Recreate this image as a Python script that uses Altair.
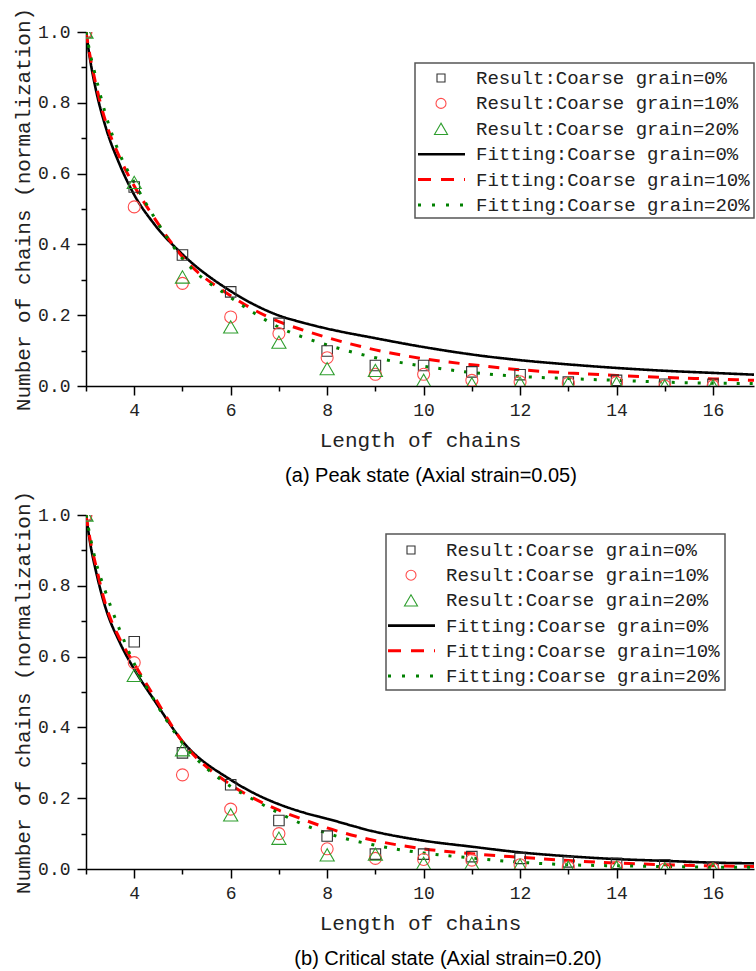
import altair as alt
import pandas as pd

# ---------------- data ----------------
x_pts = list(range(3, 17))

# (a) Peak state
sq_a = [1.0, 0.562, 0.370, 0.266, 0.177, 0.099, 0.058, 0.058, 0.040, 0.032, 0.011, 0.016, 0.005, 0.005]
ci_a = [1.0, 0.506, 0.290, 0.195, 0.148, 0.080, 0.033, 0.033, 0.016, 0.012, 0.008, 0.010, 0.0, 0.0]
tr_a = [1.0, 0.575, 0.308, 0.167, 0.124, 0.049, 0.044, 0.016, 0.006, 0.008, 0.008, 0.008, 0.0, 0.0]

# (b) Critical state
sq_b = [1.0, 0.642, 0.328, 0.238, 0.137, 0.093, 0.042, 0.042, 0.035, 0.030, 0.020, 0.016, 0.012, 0.005]
ci_b = [1.0, 0.583, 0.266, 0.169, 0.100, 0.057, 0.030, 0.027, 0.025, 0.012, 0.005, 0.005, 0.0, 0.0]
tr_b = [1.0, 0.547, 0.337, 0.153, 0.087, 0.040, 0.042, 0.016, 0.016, 0.011, 0.005, 0.005, 0.0, 0.0]

x_fit = [3, 3.1, 3.2, 3.4, 3.7, 4, 4.4, 5, 6, 6.5, 7, 7.5, 8, 9, 10, 11, 12, 13, 14, 15, 16, 16.85]
fit_a0 = [1.0, 0.91, 0.84, 0.735, 0.625, 0.54, 0.46, 0.372, 0.268, 0.229, 0.199, 0.179, 0.162, 0.135,
          0.11, 0.089, 0.073, 0.061, 0.051, 0.043, 0.037, 0.032]
fit_a10 = [1.0, 0.92, 0.855, 0.75, 0.645, 0.565, 0.478, 0.365, 0.255, 0.214, 0.182, 0.158, 0.137, 0.102,
           0.077, 0.06, 0.046, 0.037, 0.03, 0.024, 0.02, 0.016]
fit_a20 = [1.0, 0.93, 0.875, 0.77, 0.655, 0.575, 0.48, 0.36, 0.25, 0.205, 0.166, 0.138, 0.116, 0.08,
           0.056, 0.038, 0.027, 0.021, 0.016, 0.011, 0.008, 0.007]
fit_b0 = [1.0, 0.91, 0.845, 0.74, 0.64, 0.564, 0.48, 0.361, 0.252, 0.213, 0.183, 0.16, 0.142, 0.105,
          0.08, 0.063, 0.047, 0.036, 0.028, 0.023, 0.018, 0.016]
fit_b10 = [1.0, 0.92, 0.86, 0.75, 0.65, 0.58, 0.49, 0.36, 0.238, 0.198, 0.166, 0.14, 0.116, 0.08,
           0.057, 0.043, 0.033, 0.024, 0.017, 0.012, 0.009, 0.007]
fit_b20 = [1.0, 0.93, 0.87, 0.785, 0.675, 0.58, 0.48, 0.356, 0.233, 0.194, 0.158, 0.126, 0.101, 0.067,
           0.045, 0.031, 0.019, 0.012, 0.009, 0.007, 0.005, 0.005]

legend_labels = [
    "Result:Coarse grain=0%",
    "Result:Coarse grain=10%",
    "Result:Coarse grain=20%",
    "Fitting:Coarse grain=0%",
    "Fitting:Coarse grain=10%",
    "Fitting:Coarse grain=20%",
]
captions = ["(a) Peak state (Axial strain=0.05)", "(b) Critical  state (Axial strain=0.20)"]

# ---------------- styling ----------------
W, H = 668, 354
MONO = "Liberation Mono"
TXT = "#222222"
SQ_C, CI_C, TR_C = "#333333", "#ff4d4d", "#2e9e2e"

x_axis = alt.Axis(
    values=list(range(3, 17)),
    labelExpr="datum.value % 2 == 0 ? datum.value : ''",
    tickSize={"condition": {"test": "datum.value % 2 == 0", "value": 9}, "value": 5},
    title="Length of chains",
    titlePadding=10,
    labelPadding=6,
)
y_axis = alt.Axis(
    values=[round(i * 0.1, 1) for i in range(11)],
    labelExpr="round(datum.value * 10) % 2 == 0 ? format(datum.value, '.1f') : ''",
    tickSize={"condition": {"test": "round(datum.value * 10) % 2 == 0", "value": 9}, "value": 5},
    title="Number of chains (normalization)",
    titlePadding=4,
    labelPadding=7,
)
X = alt.X("x:Q", scale=alt.Scale(domain=[3, 16.85], nice=False, zero=False), axis=x_axis)
Y = alt.Y("y:Q", scale=alt.Scale(domain=[0, 1], nice=False, zero=False), axis=y_axis)


def panel(sq, ci, tr, f0, f10, f20, caption, cap_x, lg):
    layers = []
    # fitted curves
    for vals, color, dash, w in [
        (f0, "#000000", [1, 0], 2.6),
        (f10, "#ff0000", [11, 9], 3),
        (f20, "#008000", [3, 10], 3),
    ]:
        df = pd.DataFrame({"x": x_fit, "y": vals})
        layers.append(
            alt.Chart(df).mark_line(color=color, strokeDash=dash, strokeWidth=w,
                                    interpolate="monotone", clip=True).encode(x=X, y=Y)
        )
    # results
    for vals, shape, color, size in [
        (sq, "square", SQ_C, 110),
        (ci, "circle", CI_C, 144),
        (tr, "triangle-up", TR_C, 200),
    ]:
        df = pd.DataFrame({"x": x_pts, "y": vals})
        layers.append(
            alt.Chart(df).mark_point(shape=shape, color=color, filled=False, size=size,
                                     strokeWidth=1.1, clip=True, opacity=1).encode(x=X, y=Y)
        )

    # legend box
    box = pd.DataFrame({"k": [0]})
    layers.append(
        alt.Chart(box).mark_rect(fill="white", stroke="#555555", strokeWidth=1.5).encode(
            x=alt.value(lg["x0"]), x2=alt.value(lg["x1"]),
            y=alt.value(lg["y0"]), y2=alt.value(lg["y1"]))
    )
    ry = [lg["r0"] + i * lg["step"] for i in range(6)]
    for i, (shape, color, size) in enumerate([
        ("square", SQ_C, 64), ("circle", CI_C, 100), ("triangle-up", TR_C, 170)
    ]):
        layers.append(
            alt.Chart(box).mark_point(shape=shape, color=color, filled=False, size=size,
                                      strokeWidth=1.1, opacity=1).encode(
                x=alt.value(lg["sx"]), y=alt.value(ry[i]))
        )
    for i, (color, dash, w) in enumerate([
        ("#000000", [1, 0], 2.6), ("#ff0000", [13, 10], 3), ("#008000", [3, 11], 3)
    ]):
        layers.append(
            alt.Chart(box).mark_rule(color=color, strokeDash=dash, strokeWidth=w).encode(
                x=alt.value(lg["lx0"]), x2=alt.value(lg["lx1"]), y=alt.value(ry[3 + i]))
        )
    lab = pd.DataFrame({"label": legend_labels, "row": list(range(6))})
    layers.append(
        alt.Chart(lab).mark_text(font=MONO, fontSize=19, color=TXT, align="left",
                                 baseline="middle").encode(
            x=alt.value(lg["tx"]),
            y=alt.Y("py:Q", scale=None),
            text="label:N",
        ).transform_calculate(py=f"{lg['r0']} + datum.row * {lg['step']}")
    )
    # caption
    cap = pd.DataFrame({"c": [caption]})
    layers.append(
        alt.Chart(cap).mark_text(font="Liberation Sans", fontSize=20, color="#000000",
                                 align="center", baseline="middle").encode(
            x=alt.value(cap_x), y=alt.value(H + 90), text="c:N")
    )
    return alt.layer(*layers).properties(width=W, height=H)


lg_a = dict(x0=329, x1=668, y0=31, y1=186, r0=46, step=25.4, sx=355, lx0=332, lx1=379, tx=390)
lg_b = dict(x0=300, x1=639, y0=19, y1=175, r0=35, step=25.2, sx=325, lx0=302, lx1=349, tx=360)

top = panel(sq_a, ci_a, tr_a, fit_a0, fit_a10, fit_a20, captions[0], 345, lg_a)
bottom = panel(sq_b, ci_b, tr_b, fit_b0, fit_b10, fit_b20, captions[1], 362, lg_b)

chart = (
    alt.vconcat(top, bottom, spacing=4)
    .properties(padding={"left": 12, "top": 7, "right": 0, "bottom": 0}, background="white")
    .configure_view(stroke=None)
    .configure_axis(
        grid=False,
        domainColor="#000000",
        domainWidth=1.5,
        tickColor="#000000",
        tickWidth=1.5,
        labelFont=MONO,
        labelFontSize=18,
        labelColor=TXT,
        titleFont=MONO,
        titleFontSize=21,
        titleFontWeight="normal",
        titleColor=TXT,
    )
)

chart.save("out.html", embed_options={"renderer": "svg", "actions": False})
